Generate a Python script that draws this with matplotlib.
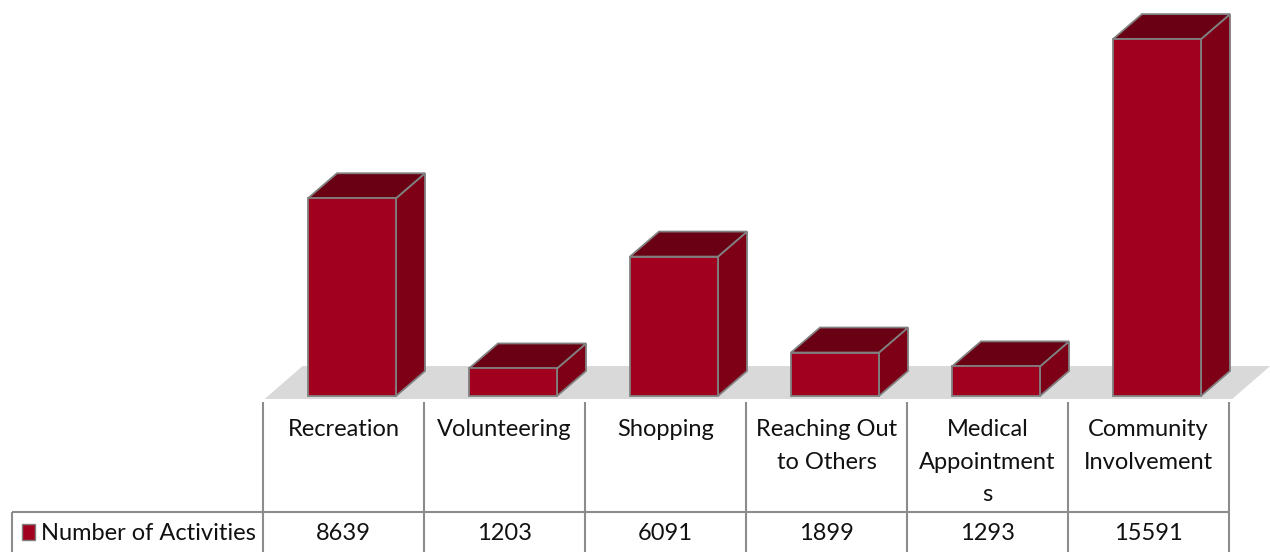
import matplotlib
matplotlib.use("Agg")
import matplotlib.pyplot as plt
from matplotlib.patches import Polygon

# ---- data ----
categories = ["Recreation", "Volunteering", "Shopping", "Reaching Out\nto Others",
              "Medical\nAppointment\ns", "Community\nInvolvement"]
values = [8639, 1203, 6091, 1899, 1293, 15591]
series_name = "Number of Activities"

# ---- style ----
FRONT = "#A1001F"
SIDE = "#7E0016"
TOP = "#690013"
EDGE = "#808080"
FLOOR = "#D9D9D9"
GRID = "#8C8C8C"
FONT = "Lato"
FS = 17

W, H = 1270, 552
fig = plt.figure(figsize=(W / 100, H / 100), dpi=100)

# overlay axes in pixel coordinates for table
tab = fig.add_axes([0, 0, 1, 1])
tab.set_xlim(0, W)
tab.set_ylim(H, 0)
tab.axis("off")

# bar axes
x_left, x_right = 263, 1229
y_zero = 396
ymax = 17300
ax = fig.add_axes([x_left / W, (H - y_zero) / H, (x_right - x_left) / W, y_zero / H])
n = len(categories)
ax.set_xlim(-0.5, n - 0.5)
ax.set_ylim(0, ymax)
ax.axis("off")

ppx = (x_right - x_left) / n      # px per category unit
ppy = y_zero / ymax               # px per value unit

def dxu(px):
    return px / ppx

def dyu(px):
    return px / ppy

# floor
fdx, fdy = dxu(38), dyu(33)
fx0, fx1 = -0.49, n - 0.48
fy = -dyu(3)
floor = Polygon([(fx0, fy), (fx1, fy), (fx1 + fdx, fy + fdy), (fx0 + fdx, fy + fdy)],
                closed=True, facecolor=FLOOR, edgecolor="none", clip_on=False, zorder=1)
ax.add_patch(floor)

# bars
hw = dxu(44)
shift = dxu(8.5)
bdx, bdy = dxu(29), dyu(25)
lw = 1.3
for i, v in enumerate(values):
    l, r = i + shift - hw, i + shift + hw
    side = Polygon([(r, 0), (r + bdx, bdy), (r + bdx, v + bdy), (r, v)], closed=True,
                   facecolor=SIDE, edgecolor=EDGE, lw=lw, clip_on=False, zorder=2,
                   joinstyle="miter")
    top = Polygon([(l, v), (r, v), (r + bdx, v + bdy), (l + bdx, v + bdy)], closed=True,
                  facecolor=TOP, edgecolor=EDGE, lw=lw, clip_on=False, zorder=2,
                  joinstyle="miter")
    front = Polygon([(l, 0), (r, 0), (r, v), (l, v)], closed=True,
                    facecolor=FRONT, edgecolor=EDGE, lw=lw, clip_on=False, zorder=3,
                    joinstyle="miter")
    for p in (side, top, front):
        ax.add_patch(p)

# data table
col_w = (x_right - x_left) / n
row_line_y = 512
tab.plot([12, x_right], [row_line_y, row_line_y], color=GRID, lw=1.5, solid_capstyle="butt")
for k in range(n + 1):
    x = x_left + k * col_w
    tab.plot([x, x], [402, H + 5], color=GRID, lw=1.5, solid_capstyle="butt")
tab.plot([12, 12], [row_line_y, H + 5], color=GRID, lw=1.5, solid_capstyle="butt")

for i, (c, v) in enumerate(zip(categories, values)):
    cx = x_left + (i + 0.5) * col_w
    tab.text(cx, 419, c, ha="center", va="top", fontsize=FS, family=FONT,
             color="#111111", linespacing=1.68)
    tab.text(cx, 534, f"{v}", ha="center", va="center", fontsize=FS, family=FONT,
             color="#111111")

# legend key + row label
key = Polygon([(22, 524), (35, 524), (35, 540), (22, 540)], closed=True,
              facecolor=FRONT, edgecolor=EDGE, lw=1.0)
tab.add_patch(key)
tab.text(41, 533, series_name, ha="left", va="center", fontsize=FS, family=FONT,
         color="#111111")

fig.savefig("out.png", dpi=100, facecolor="white")
